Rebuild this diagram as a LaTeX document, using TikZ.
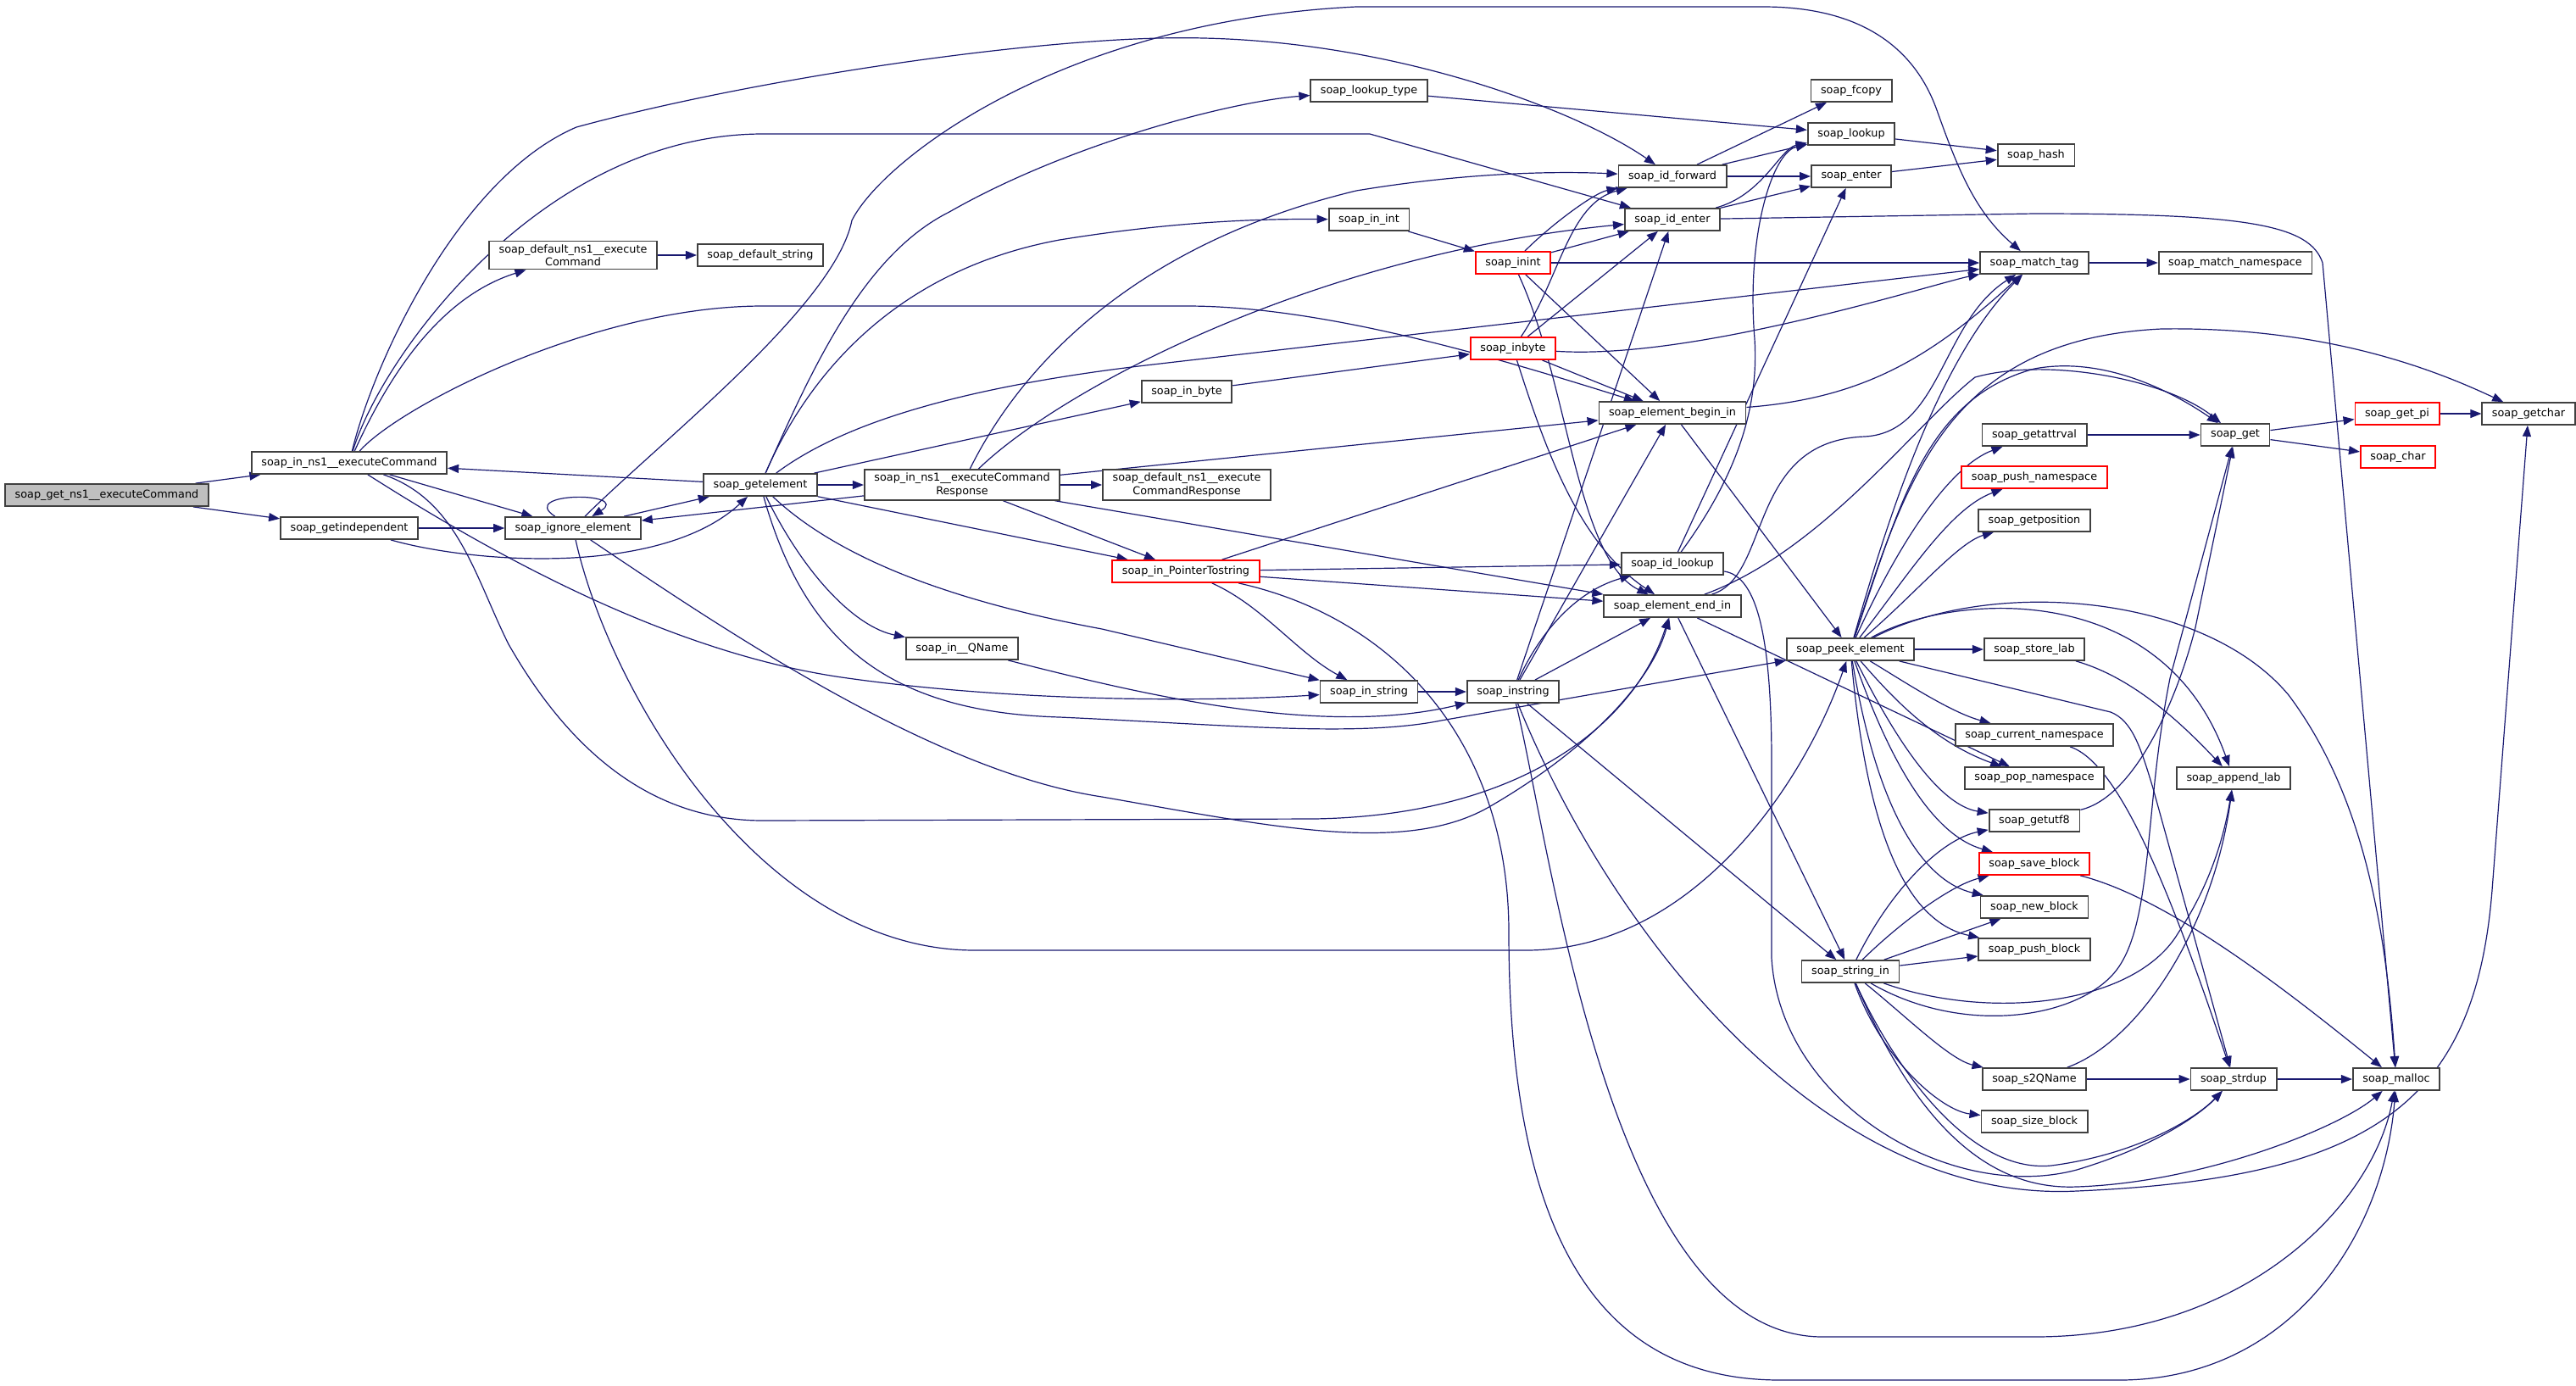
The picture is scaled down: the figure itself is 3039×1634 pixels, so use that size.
\documentclass[tikz,border=0pt]{standalone}
\usepackage{fontspec}
\setmainfont{DejaVu Sans}
\usepackage{tikz}
\usetikzlibrary{arrows.meta,backgrounds}
\definecolor{EdgeBlue}{RGB}{25,25,112}
\definecolor{BoxGray}{RGB}{64,64,64}
\definecolor{RootFill}{RGB}{191,191,191}
\definecolor{BoxRed}{RGB}{255,0,0}

\begin{document}
\begin{tikzpicture}[
  x=0.5pt,y=-0.5pt,
  box/.style={rectangle,draw=BoxGray,line width=0.9pt,fill=white,align=center,inner xsep=5.8pt,inner ysep=2pt,minimum height=13pt,font=\fontsize{6.4}{7.6}\selectfont},
  root/.style={box,fill=RootFill},
  redbox/.style={box,draw=BoxRed},
  arr/.style={-{Triangle[length=6.5pt,width=5pt]},line width=0.6pt,EdgeBlue}
]
\useasboundingbox (0,0) rectangle (3039,1634);
\node[root] (getcmd) at (126,584) {soap\_get\_ns1\_\_executeCommand};
\node[box] (incmd) at (412,546) {soap\_in\_ns1\_\_executeCommand};
\node[box] (getindep) at (412,623) {soap\_getindependent};
\node[box] (ignore) at (676,623) {soap\_ignore\_element};
\node[box] (defcmd) at (676,301) {soap\_default\_ns1\_\_execute\\Command};
\node[box] (getelem) at (897,572) {soap\_getelement};
\node[box] (defstring) at (897,301) {soap\_default\_string};
\node[box] (incmdresp) at (1135,572) {soap\_in\_ns1\_\_executeCommand\\Response};
\node[box] (inqname) at (1135,765) {soap\_in\_\_QName};
\node[box] (defcmdresp) at (1400,572) {soap\_default\_ns1\_\_execute\\CommandResponse};
\node[box] (lookuptype) at (1615,107) {soap\_lookup\_type};
\node[box] (inInt) at (1615,259) {soap\_in\_int};
\node[box] (inByte) at (1400,462) {soap\_in\_byte};
\node[redbox] (inptr) at (1399,674) {soap\_in\_PointerTostring};
\node[box] (inString) at (1615,816) {soap\_in\_string};
\node[box] (instring) at (1785,816) {soap\_instring};
\node[redbox] (inint) at (1785,310) {soap\_inint};
\node[redbox] (inbyte) at (1785,411) {soap\_inbyte};
\node[box] (idforward) at (1973,208) {soap\_id\_forward};
\node[box] (identer) at (1973,259) {soap\_id\_enter};
\node[box] (elbegin) at (1973,487) {soap\_element\_begin\_in};
\node[box] (idlookup) at (1973,665) {soap\_id\_lookup};
\node[box] (elend) at (1973,715) {soap\_element\_end\_in};
\node[box] (fcopy) at (2184,107) {soap\_fcopy};
\node[box] (lookup) at (2184,158) {soap\_lookup};
\node[box] (enter) at (2184,208) {soap\_enter};
\node[box] (hash) at (2402,183) {soap\_hash};
\node[box] (matchtag) at (2400,310) {soap\_match\_tag};
\node[box] (matchns) at (2637,310) {soap\_match\_namespace};
\node[box] (peek) at (2183,766) {soap\_peek\_element};
\node[box] (stringin) at (2183,1146) {soap\_string\_in};
\node[box] (getattrval) at (2400,513) {soap\_getattrval};
\node[redbox] (pushns) at (2400,563) {soap\_push\_namespace};
\node[box] (getpos) at (2400,614) {soap\_getposition};
\node[box] (storelab) at (2400,766) {soap\_store\_lab};
\node[box] (curns) at (2400,867) {soap\_current\_namespace};
\node[box] (popns) at (2400,918) {soap\_pop\_namespace};
\node[box] (getutf) at (2400,968) {soap\_getutf8};
\node[redbox] (saveblock) at (2400,1019) {soap\_save\_block};
\node[box] (newblock) at (2400,1070) {soap\_new\_block};
\node[box] (pushblock) at (2400,1120) {soap\_push\_block};
\node[box] (sqname) at (2400,1273) {soap\_s2QName};
\node[box] (sizeblock) at (2400,1323) {soap\_size\_block};
\node[box] (appendlab) at (2635,918) {soap\_append\_lab};
\node[box] (strdup) at (2635,1273) {soap\_strdup};
\node[box] (malloc) at (2827,1273) {soap\_malloc};
\node[box] (get) at (2637,513) {soap\_get};
\node[redbox] (getpi) at (2828,488) {soap\_get\_pi};
\node[redbox] (chr) at (2829,539) {soap\_char};
\node[box] (getchar) at (2983,488) {soap\_getchar};
\begin{scope}[on background layer]
% callers on the left
\draw[arr] (getcmd) -- (incmd);
\draw[arr] (getcmd) -- (getindep);
\draw[arr] (getindep) -- (ignore);
\draw[arr] (getindep) .. controls (560,665) and (780,680) .. (getelem);
\draw[arr] (incmd) -- (ignore);
\draw[arr] (incmd) .. controls (460,440) and (520,350) .. (defcmd);
\draw[arr] (incmd) .. controls (440,430) and (540,210) .. (680,150) .. controls (900,90) and (1250,40) .. (1420,45) .. controls (1650,50) and (1860,130) .. (idforward);
\draw[arr] (incmd) .. controls (450,420) and (640,158) .. (900,158) -- (1616,158) -- (identer);
\draw[arr] (incmd) .. controls (470,480) and (700,361) .. (900,361) -- (1400,361) .. controls (1560,361) and (1760,420) .. (elbegin);
\draw[arr] (incmd) .. controls (560,640) and (780,770) .. (1000,800) .. controls (1200,828) and (1420,828) .. (inString);
\draw[arr] (incmd) .. controls (540,590) and (560,680) .. (600,760) .. controls (680,900) and (780,968) .. (900,968) -- (1550,966) .. controls (1800,962) and (1930,850) .. (elend);
\draw[arr] (ignore) .. controls (610,580) and (745,580) .. (ignore);
\draw[arr] (ignore) -- (getelem);
\draw[arr] (ignore) .. controls (780,520) and (985,360) .. (1005,260) .. controls (1040,190) and (1250,25) .. (1600,8) -- (2080,8) .. controls (2200,8) and (2260,60) .. (2285,130) .. controls (2310,200) and (2330,250) .. (matchtag);
\draw[arr] (ignore) .. controls (850,740) and (1100,910) .. (1300,940) .. controls (1500,975) and (1660,1010) .. (1760,950) .. controls (1880,880) and (1950,800) .. (elend);
\draw[arr] (ignore) .. controls (720,820) and (900,1121) .. (1150,1121) -- (1800,1121) .. controls (2000,1121) and (2130,920) .. (peek);
\draw[arr] (defcmd) -- (defstring);
% soap_getelement
\draw[arr] (getelem) -- (incmd);
\draw[arr] (getelem) -- (incmdresp);
\draw[arr] (getelem) .. controls (960,430) and (1020,300) .. (1120,250) .. controls (1260,170) and (1450,120) .. (lookuptype);
\draw[arr] (getelem) .. controls (950,450) and (1050,320) .. (1250,283) .. controls (1380,262) and (1480,258) .. (inInt);
\draw[arr] (getelem) -- (inByte);
\draw[arr] (getelem) .. controls (980,510) and (1100,460) .. (1360,430) -- (matchtag);
\draw[arr] (getelem) .. controls (950,680) and (1010,740) .. (inqname);
\draw[arr] (getelem) -- (inptr);
\draw[arr] (getelem) .. controls (980,650) and (1100,705) .. (1300,742) -- (inString);
\draw[arr] (getelem) .. controls (950,760) and (1050,840) .. (1250,846) .. controls (1450,855) and (1600,870) .. (1700,850) -- (peek);
% soap_in_ns1__executeCommandResponse
\draw[arr] (incmdresp) -- (ignore);
\draw[arr] (incmdresp) -- (defcmdresp);
\draw[arr] (incmdresp) -- (inptr);
\draw[arr] (incmdresp) -- (elend);
\draw[arr] (incmdresp) -- (elbegin);
\draw[arr] (incmdresp) .. controls (1200,440) and (1330,290) .. (1600,225) .. controls (1750,200) and (1860,203) .. (idforward);
\draw[arr] (incmdresp) .. controls (1250,460) and (1550,300) .. (identer);
\draw[arr] (lookuptype) -- (lookup);
\draw[arr] (inInt) -- (inint);
\draw[arr] (inByte) -- (inbyte);
\draw[arr] (inqname) .. controls (1350,820) and (1560,870) .. (instring);
% soap_in_PointerTostring
\draw[arr] (inptr) .. controls (1490,715) and (1530,770) .. (inString);
\draw[arr] (inptr) -- (idlookup);
\draw[arr] (inptr) -- (elend);
\draw[arr] (inptr) -- (elbegin);
\draw[arr] (inptr) .. controls (1650,730) and (1780,880) .. (1780,1100) .. controls (1780,1480) and (1900,1628) .. (2100,1628) -- (2500,1628) .. controls (2700,1628) and (2812,1460) .. (malloc);
\draw[arr] (inString) -- (instring);
% soap_inint and soap_inbyte
\draw[arr] (inint) .. controls (1830,265) and (1880,228) .. (idforward);
\draw[arr] (inint) -- (identer);
\draw[arr] (inint) -- (matchtag);
\draw[arr] (inint) -- (elbegin);
\draw[arr] (inint) .. controls (1850,450) and (1860,660) .. (elend);
\draw[arr] (inbyte) .. controls (1840,330) and (1850,240) .. (idforward);
\draw[arr] (inbyte) -- (identer);
\draw[arr] (inbyte) -- (elbegin);
\draw[arr] (inbyte) .. controls (2000,425) and (2280,335) .. (matchtag);
\draw[arr] (inbyte) .. controls (1820,520) and (1860,640) .. (elend);
% soap_instring
\draw[arr] (instring) -- (identer);
\draw[arr] (instring) -- (elbegin);
\draw[arr] (instring) -- (elend);
\draw[arr] (instring) .. controls (1810,760) and (1850,700) .. (idlookup);
\draw[arr] (instring) -- (stringin);
\draw[arr] (instring) .. controls (1830,1000) and (1900,1577) .. (2150,1577) -- (2400,1577) .. controls (2650,1577) and (2800,1420) .. (malloc);
\draw[arr] (instring) .. controls (1900,1100) and (2150,1420) .. (2450,1405) .. controls (2800,1390) and (2920,1300) .. (2940,1050) -- (getchar);
% element begin / end
\draw[arr] (elbegin) -- (peek);
\draw[arr] (elbegin) .. controls (2200,470) and (2280,420) .. (matchtag);
\draw[arr] (elend) .. controls (2090,680) and (2060,520) .. (2200,515) .. controls (2290,510) and (2290,380) .. (matchtag);
\draw[arr] (elend) .. controls (2150,650) and (2260,500) .. (2330,445) .. controls (2420,420) and (2560,450) .. (get);
\draw[arr] (elend) -- (stringin);
\draw[arr] (elend) -- (popns);
% id handling
\draw[arr] (idforward) -- (fcopy);
\draw[arr] (idforward) -- (lookup);
\draw[arr] (idforward) -- (enter);
\draw[arr] (identer) .. controls (2080,230) and (2100,175) .. (lookup);
\draw[arr] (identer) -- (enter);
\draw[arr] (identer) -- (2400,252) .. controls (2650,252) and (2725,265) .. (2740,310) -- (malloc);
\draw[arr] (idlookup) .. controls (2050,560) and (2075,480) .. (2070,400) .. controls (2060,280) and (2090,180) .. (lookup);
\draw[arr] (idlookup) -- (enter);
\draw[arr] (idlookup) .. controls (2075,680) and (2090,760) .. (2090,900) -- (2090,1130) .. controls (2100,1300) and (2300,1420) .. (2450,1380) .. controls (2550,1350) and (2600,1310) .. (strdup);
\draw[arr] (lookup) -- (hash);
\draw[arr] (enter) -- (hash);
\draw[arr] (matchtag) -- (matchns);
% soap_peek_element
\draw[arr] (peek) -- (storelab);
\draw[arr] (peek) .. controls (2240,800) and (2300,840) .. (curns);
\draw[arr] (peek) .. controls (2230,820) and (2280,875) .. (popns);
\draw[arr] (peek) .. controls (2240,880) and (2290,950) .. (getutf);
\draw[arr] (peek) .. controls (2230,900) and (2280,985) .. (saveblock);
\draw[arr] (peek) .. controls (2215,960) and (2270,1040) .. (newblock);
\draw[arr] (peek) .. controls (2205,1010) and (2260,1090) .. (pushblock);
\draw[arr] (peek) .. controls (2240,640) and (2300,550) .. (getattrval);
\draw[arr] (peek) .. controls (2250,680) and (2300,600) .. (pushns);
\draw[arr] (peek) .. controls (2260,700) and (2310,640) .. (getpos);
\draw[arr] (peek) .. controls (2230,600) and (2290,420) .. (matchtag);
\draw[arr] (peek) .. controls (2240,600) and (2270,470) .. (2400,435) .. controls (2480,420) and (2560,460) .. (get);
\draw[arr] (peek) .. controls (2250,560) and (2300,400) .. (2550,388) .. controls (2750,385) and (2880,440) .. (getchar);
\draw[arr] (peek) .. controls (2300,700) and (2550,680) .. (appendlab);
\draw[arr] (peek) .. controls (2350,680) and (2600,700) .. (2700,820) .. controls (2790,940) and (2815,1100) .. (malloc);
\draw[arr] (peek) -- (2490,840) .. controls (2515,850) and (2525,880) .. (2540,930) -- (strdup);
% soap_string_in
\draw[arr] (stringin) .. controls (2230,1050) and (2290,990) .. (getutf);
\draw[arr] (stringin) .. controls (2240,1090) and (2300,1045) .. (saveblock);
\draw[arr] (stringin) -- (newblock);
\draw[arr] (stringin) -- (pushblock);
\draw[arr] (stringin) .. controls (2250,1200) and (2300,1250) .. (sqname);
\draw[arr] (stringin) .. controls (2220,1250) and (2290,1310) .. (sizeblock);
\draw[arr] (stringin) .. controls (2230,1250) and (2320,1385) .. (2420,1375) .. controls (2520,1362) and (2590,1320) .. (strdup);
\draw[arr] (stringin) .. controls (2250,1300) and (2330,1405) .. (2450,1400) .. controls (2600,1395) and (2760,1330) .. (malloc);
\draw[arr] (stringin) .. controls (2350,1205) and (2520,1185) .. (2570,1100) .. controls (2610,1040) and (2625,980) .. (appendlab);
\draw[arr] (stringin) .. controls (2320,1225) and (2460,1200) .. (2500,1140) .. controls (2540,1080) and (2530,950) .. (2560,800) -- (get);
% right column
\draw[arr] (getutf) .. controls (2520,940) and (2570,820) .. (2590,740) -- (get);
\draw[arr] (storelab) .. controls (2520,800) and (2580,860) .. (appendlab);
\draw[arr] (sqname) -- (strdup);
\draw[arr] (sqname) .. controls (2520,1230) and (2610,1100) .. (appendlab);
\draw[arr] (curns) .. controls (2500,900) and (2560,1050) .. (strdup);
\draw[arr] (saveblock) .. controls (2560,1060) and (2700,1170) .. (malloc);
\draw[arr] (strdup) -- (malloc);
\draw[arr] (getattrval) -- (get);
\draw[arr] (get) -- (getpi);
\draw[arr] (get) -- (chr);
\draw[arr] (getpi) -- (getchar);
\end{scope}
\end{tikzpicture}
\end{document}
